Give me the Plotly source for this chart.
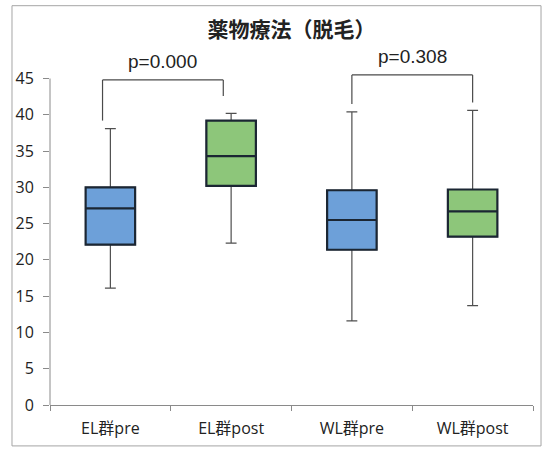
import plotly.graph_objects as go

# Groups and box-plot statistics (pre / post for each group)
categories = ["EL群pre", "EL群post", "WL群pre", "WL群post"]
lower_whisker = [16.1, 22.3, 11.6, 13.7]
q1_values = [22.1, 30.2, 21.4, 23.2]
median_values = [27.1, 34.3, 25.5, 26.7]
q3_values = [30.0, 39.2, 29.6, 29.7]
upper_whisker = [38.1, 40.2, 40.4, 40.6]

# Significance brackets: (left category, right category), leg ends, top
bracket_pairs = [(0, 1), (2, 3)]
bracket_leg_left = [39.2, 41.5]
bracket_leg_right = [42.6, 41.7]
bracket_top = [44.8, 45.5]
p_labels = ["p=0.000", "p=0.308"]

y_ticks = [0, 5, 10, 15, 20, 25, 30, 35, 40, 45]

title_text = "薬物療法（脱毛）"

PRE_FILL = "#6DA0D9"
POST_FILL = "#8DC67A"
BOX_EDGE = "#1B2633"
WHISKER = "#4F4F4F"
AXIS = "#8A8A8A"
BRACKET = "#4A4A4A"

fig = go.Figure()

def pick(seq, idx):
    return [seq[i] for i in idx]

for idx, fill in (([0, 2], PRE_FILL), ([1, 3], POST_FILL)):
    xs = pick(categories, idx)
    # whiskers with caps (thin grey)
    fig.add_trace(go.Box(
        x=xs, q1=pick(q1_values, idx), median=pick(median_values, idx),
        q3=pick(q3_values, idx), lowerfence=pick(lower_whisker, idx),
        upperfence=pick(upper_whisker, idx),
        width=0.41, whiskerwidth=0.22,
        fillcolor="rgba(0,0,0,0)",
        line=dict(color=WHISKER, width=1.2),
        hoverinfo="skip", showlegend=False,
    ))
    # filled box with dark outline and median
    fig.add_trace(go.Box(
        x=xs, q1=pick(q1_values, idx), median=pick(median_values, idx),
        q3=pick(q3_values, idx), lowerfence=pick(q1_values, idx),
        upperfence=pick(q3_values, idx),
        width=0.41, whiskerwidth=0,
        fillcolor=fill,
        line=dict(color=BOX_EDGE, width=2.2),
        hoverinfo="skip", showlegend=False,
    ))

# brackets and p-value labels (category index positions)
bracket_shift = [-0.065, 0.0]
for k, (a, b) in enumerate(bracket_pairs):
    xa = a + bracket_shift[k]
    xb = b + bracket_shift[k]
    segs = [
        (xa, bracket_leg_left[k], xa, bracket_top[k]),
        (xa, bracket_top[k], xb, bracket_top[k]),
        (xb, bracket_top[k], xb, bracket_leg_right[k]),
    ]
    for x0, y0, x1, y1 in segs:
        fig.add_shape(type="line", xref="x", yref="y",
                      x0=x0, y0=y0, x1=x1, y1=y1,
                      line=dict(color=BRACKET, width=1.2))
    fig.add_annotation(
        x=(xa + xb) / 2, y=bracket_top[k], xref="x", yref="y",
        text=p_labels[k], showarrow=False, yanchor="middle", yshift=18,
        font=dict(family="Liberation Sans, Arial", size=19, color="#222222"),
    )

# y axis line only spans the labelled range
fig.add_shape(type="line", xref="paper", yref="y", x0=0, x1=0,
              y0=y_ticks[0], y1=y_ticks[-1],
              line=dict(color=AXIS, width=1))

# outer chart frame
fig.add_shape(type="rect", xref="paper", yref="paper",
              x0=-0.0787, x1=1.0166, y0=-0.12, y1=1.171,
              line=dict(color="#A5A5A5", width=1))

fig.update_layout(
    width=543, height=450,
    margin=dict(l=50, r=10, t=63.5, b=45),
    paper_bgcolor="white", plot_bgcolor="white",
    boxmode="overlay",
    title=dict(text=f"<b>{title_text}</b>", x=0.5, xref="paper",
               y=1 - 30 / 450, yref="container", yanchor="middle", xanchor="center",
               font=dict(family="Noto Sans CJK JP", size=21, color="#222222")),
    xaxis=dict(
        type="category", categoryorder="array", categoryarray=categories,
        range=[-0.5, 3.5],
        showline=True, linecolor=AXIS, linewidth=1,
        ticks="outside", tickson="boundaries", ticklen=5, tickcolor=AXIS,
        ticklabelstandoff=9,
        showgrid=False, zeroline=False,
        tickfont=dict(family="Open Sans, Noto Sans CJK JP", size=16, color="#222222"),
    ),
    yaxis=dict(
        range=[0, 47], tickvals=y_ticks, ticktext=[str(v) for v in y_ticks],
        showline=False, ticks="outside", ticklen=6, tickcolor=AXIS,
        ticklabelstandoff=6,
        showgrid=False, zeroline=False,
        tickfont=dict(family="Open Sans", size=16, color="#222222"),
    ),
    font=dict(family="Open Sans, Noto Sans CJK JP"),
)

fig.write_html("out.html")
